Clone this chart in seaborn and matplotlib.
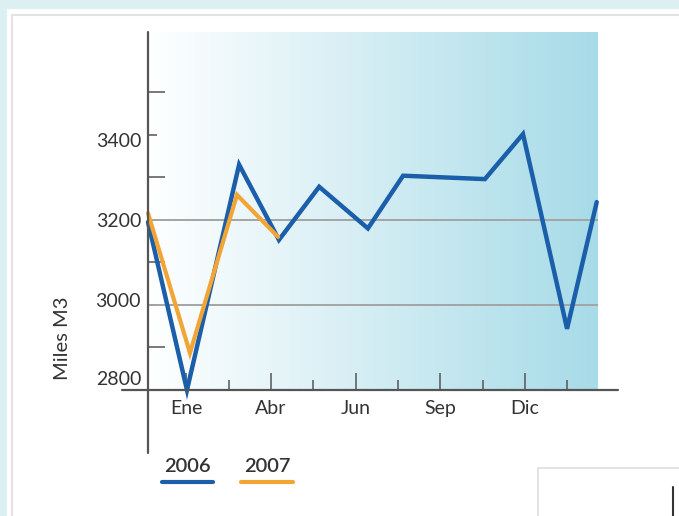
import numpy as np
import seaborn as sns
import matplotlib.pyplot as plt
from matplotlib.colors import LinearSegmentedColormap
from matplotlib.patches import Rectangle
from matplotlib.lines import Line2D
from matplotlib.transforms import ScaledTranslation

# data (x in tick units, Ene=1 ... Dic=9)
x_2006 = [0.1, 1.02, 2.25, 3.19, 4.14, 5.29, 6.12, 8.05, 8.95, 9.99, 10.69]
v_2006 = [3195, 2800, 3330, 3153, 3278, 3180, 3304, 3296, 3402, 2944, 3242]
x_2007 = [0.1, 1.09, 2.2, 3.17]
v_2007 = [3216, 2887, 3259, 3160]

month_ticks = [1, 3, 5, 7, 9]
month_labels = ['Ene', 'Abr', 'Jun', 'Sep', 'Dic']
minor_month_ticks = [2, 4, 6, 8, 10]
y_ticks = [2800, 3000, 3200, 3400]
y_minor_ticks = [2900, 3100, 3300, 3500]
grid_levels = [3000, 3200]

sns.set_theme(style='white')
plt.rcParams['font.family'] = ['Lato', 'DejaVu Sans']

W, H = 679, 516
fig = plt.figure(figsize=(W / 100, H / 100), dpi=100)
fig.patch.set_facecolor('#dcf0f4')

def fx(px):
    return px / W

def fy(py):
    return 1 - py / H

# white panel with faint border
fig.patches.append(Rectangle((fx(7), 0), 1, fy(9), transform=fig.transFigure,
                             facecolor='white', edgecolor='none', zorder=-10))
fig.patches.append(Rectangle((fx(12), -0.01), 1, fy(15) + 0.01, transform=fig.transFigure,
                             facecolor='none', edgecolor='#e3e3e3', lw=1.5, zorder=-9))
# box peeking in at bottom right
fig.patches.append(Rectangle((fx(538), -0.01), 1, fy(468) + 0.01, transform=fig.transFigure,
                             facecolor='white', edgecolor='#dedede', lw=1.2, zorder=-8))
fig.add_artist(Line2D([fx(673), fx(673)], [fy(487), 0], transform=fig.transFigure,
                      color='#333333', lw=1.5))

x0, x1 = 0.1, 10.72
y0, y1 = 2800, 3642
ax = fig.add_axes([fx(148), fy(390), fx(598) - fx(148), fy(32) - fy(390)])
ax.set_facecolor('none')

grad = LinearSegmentedColormap.from_list('g', ['#ffffff', '#a7dbe8'])
ax.imshow(np.linspace(0, 1, 256).reshape(1, -1), cmap=grad, extent=[x0, x1, y0, y1],
          aspect='auto', zorder=0, interpolation='bicubic')

for g in grid_levels:
    ax.axhline(g, color='#a4a4a4', lw=1.4, zorder=1)

sns.lineplot(x=x_2006, y=v_2006, ax=ax, color='#1b5ea9', lw=3.2, sort=False,
             legend=False, clip_on=False, zorder=3, solid_joinstyle='miter')
sns.lineplot(x=x_2007, y=v_2007, ax=ax, color='#f2a535', lw=3.0, sort=False,
             legend=False, clip_on=False, zorder=4, solid_joinstyle='miter')

ax.set_xlim(x0, x1)
ax.set_ylim(y0, y1)
for s in ax.spines.values():
    s.set_visible(False)

# axis lines extend past the plot area
ax.plot([-0.058, 1.044], [0, 0], transform=ax.transAxes, color='#555555', lw=1.6,
        clip_on=False, zorder=5)
ax.plot([0, 0], [-0.176, 1], transform=ax.transAxes, color='#555555', lw=1.6,
        clip_on=False, zorder=5)

ax.set_xticks(month_ticks)
ax.set_xticklabels(month_labels)
ax.set_xticks(minor_month_ticks, minor=True)
ax.set_yticks(y_ticks)
ax.set_yticklabels([str(v) for v in y_ticks])
ax.set_yticks(y_minor_ticks, minor=True)

ax.tick_params(axis='x', which='major', direction='in', length=12, width=1.1,
               color='#555555', pad=7, labelsize=14, labelcolor='#333333')
ax.tick_params(axis='x', which='minor', direction='in', length=7, width=1.1,
               color='#555555')
ax.tick_params(axis='y', which='major', direction='in', length=6.5, width=1.1,
               color='#555555', pad=5, labelsize=14, labelcolor='#333333')
ax.tick_params(axis='y', which='minor', direction='in', length=12, width=1.1,
               color='#555555')
ax.tick_params(bottom=True, left=True, which='both')

# the labels sit a little off their ticks in the original
label_shift_px = {2800: 12, 3000: 5, 3200: 0, 3400: -5}
for val, lab in zip(y_ticks, ax.get_yticklabels()):
    lab.set_transform(lab.get_transform() +
                      ScaledTranslation(0, label_shift_px[val] / 100, fig.dpi_scale_trans))

fig.text(fx(62), fy(338), 'Miles M3', rotation=90, ha='center', va='center',
         fontsize=14.5, color='#333333')

# legend
for label, color, xa, xb in [('2006', '#1b5ea9', 162, 213), ('2007', '#f2a535', 241, 293)]:
    fig.text(fx((xa + xb) / 2), fy(467), label, ha='center', va='center',
             fontsize=14.5, color='#333333', fontweight='semibold')
    fig.add_artist(Line2D([fx(xa), fx(xb)], [fy(482), fy(482)], transform=fig.transFigure,
                          color=color, lw=3))

fig.savefig('out.png', dpi=100)
